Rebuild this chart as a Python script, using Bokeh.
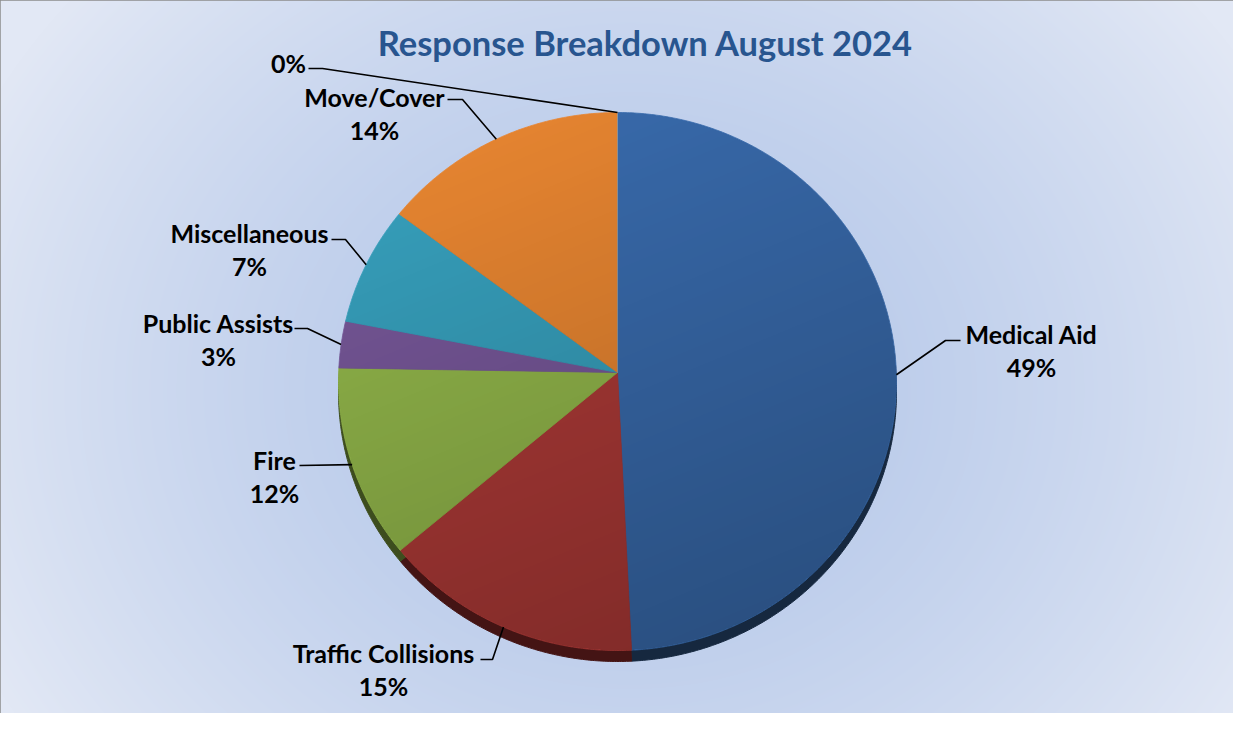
import numpy as np
from bokeh.plotting import figure
from bokeh.models import Range1d
from bokeh.core.properties import value
from bokeh.embed import file_html
from bokeh.resources import INLINE

# ---------------- data ----------------
title_text = "Response Breakdown August 2024"
categories = ["Medical Aid", "Traffic Collisions", "Fire", "Public Assists",
              "Miscellaneous", "Move/Cover", ""]
shares = [49.2, 15.0, 11.6, 2.8, 7.1, 14.3, 0.0]
face_colors = ["#3a6db0", "#b03b38", "#95ba4c", "#79599c", "#38a3c0", "#ec8832", "#999999"]
rim_colors = ["#16283f", "#441414", "#3d4d1e", "#2c2039", "#16404b", "#5c3412", "#444444"]

# label layout (screen pixels): name centre x, name centre y, elbow x, elbow y, leader end x
label_x = [1031, 383, 274, 218, 249, 374, 288]
label_y = [333, 652, 459, 322, 232, 96, 62]
elbow_x = [945, 492, 299, 307, 345, 462, 322]
elbow_y = [340, 659, 465, 328, 239, 99, 68]
end_x = [960, 480, 299, 294, 331, 447, 308]

# ---------------- layout ----------------
W, H = 1233, 713
OFF = 0


def Y(s):
    return OFF + H - np.asarray(s, dtype=float)


p = figure(width=W, height=H, x_range=Range1d(OFF, OFF + W), y_range=Range1d(0, H),
           output_backend="svg", toolbar_location=None, min_border=0,
           x_axis_location=None, y_axis_location=None)
p.grid.visible = False
p.outline_line_color = "#8c8c8c"
p.outline_line_width = 2
p.border_fill_color = "white"
p.background_fill_color = "#cdd9ef"

# background radial gradient
sx = np.arange(W) + OFF + 0.5
sy = (OFF + H) - (np.arange(H) + 0.5)
GX, GY = np.meshgrid(sx, sy)
t = np.sqrt(((GX - 630) / 720.0) ** 2 + ((GY - 390) / 620.0) ** 2)
t = np.clip(t, 0, 1) ** 1.5
c0 = np.array([180, 199, 233], dtype=float)
c1 = np.array([226, 232, 245], dtype=float)
bg = np.empty((H, W), dtype=np.uint32)
v = bg.view(np.uint8).reshape((H, W, 4))
for k in range(3):
    v[:, :, k] = (c0[k] + (c1[k] - c0[k]) * t).astype(np.uint8)
v[:, :, 3] = 255
p.image_rgba(image=[bg], x=OFF, y=0, dw=W, dh=H)

# ---------------- pie geometry ----------------
CX, CY = 617.0, 381.0
RX, RY = 279.0, 269.0
AX, AY = 617.0, 372.0
DEPTH = 11.0

total = float(sum(shares))
bounds = np.concatenate([[0.0], np.cumsum(shares)]) / total * 2 * np.pi


def slice_pts(a0, a1):
    n = max(2, int(np.degrees(a1 - a0) * 2))
    tt = np.linspace(a0, a1, n)
    xs = np.concatenate([[AX], CX + RX * np.sin(tt)])
    ys = np.concatenate([[AY], CY - RY * np.cos(tt)])
    return xs, ys


rim_xs, rim_ys, face_xs, face_ys = [], [], [], []
for i in range(len(shares)):
    xs, ys = slice_pts(bounds[i], bounds[i + 1])
    rim_xs.append(list(xs))
    rim_ys.append(list(Y(ys + DEPTH)))
    face_xs.append(list(xs))
    face_ys.append(list(Y(ys)))

p.patches(rim_xs, rim_ys, fill_color=rim_colors, line_color=rim_colors, line_width=1)
p.patches(face_xs, face_ys, fill_color=face_colors, line_color=face_colors, line_width=0.8)

# shading overlay on the pie face
bx0, bx1 = int(CX - RX) - 1, int(CX + RX) + 2
by0, by1 = int(CY - RY) - 1, int(CY + RY) + 2
ow, oh = bx1 - bx0, by1 - by0
ox = np.arange(ow) + bx0 + 0.5
oy = by1 - (np.arange(oh) + 0.5)
OX, OY = np.meshgrid(ox, oy)
inside = ((OX - CX) / RX) ** 2 + ((OY - CY) / RY) ** 2 <= 1.0
tt = 0.3 * (OX - (CX - RX)) / (2 * RX) + 0.7 * (OY - (CY - RY)) / (2 * RY)
alpha = np.where(inside, 0.30 * np.clip(tt, 0, 1), 0.0)
ov = np.zeros((oh, ow), dtype=np.uint32)
vv = ov.view(np.uint8).reshape((oh, ow, 4))
vv[:, :, 3] = (alpha * 255).astype(np.uint8)
p.image_rgba(image=[ov], x=bx0, y=float(Y(by1)), dw=ow, dh=oh)

# ---------------- labels & leaders ----------------
mid = (bounds[:-1] + bounds[1:]) / 2
anc_x = CX + RX * np.sin(mid)
anc_y = CY - RY * np.cos(mid)
lead_xs, lead_ys = [], []
for i in range(len(shares)):
    lead_xs.append([float(anc_x[i]), elbow_x[i], end_x[i]])
    lead_ys.append(list(Y([anc_y[i], elbow_y[i], elbow_y[i]])))
p.multi_line(lead_xs, lead_ys, line_color="black", line_width=1.6)

font = value("Lato")
names_x, names_y, names_t = [], [], []
pct_x, pct_y, pct_t = [], [], []
for i, (c, s) in enumerate(zip(categories, shares)):
    pct = f"{round(s / total * 100)}%"
    if c:
        names_x.append(label_x[i]); names_y.append(float(Y(label_y[i]))); names_t.append(c)
        pct_x.append(label_x[i]); pct_y.append(float(Y(label_y[i] + 33))); pct_t.append(pct)
    else:
        pct_x.append(label_x[i]); pct_y.append(float(Y(label_y[i]))); pct_t.append(pct)

p.text(names_x, names_y, text=names_t, text_font=font, text_font_style="bold",
       text_font_size="25px", text_align="center", text_baseline="middle", text_color="black")
p.text(pct_x, pct_y, text=pct_t, text_font=font, text_font_style="bold",
       text_font_size="25px", text_align="center", text_baseline="middle", text_color="black")

p.text([645], [float(Y(42))], text=[title_text], text_font=font, text_font_style="bold",
       text_font_size="34.5px", text_align="center", text_baseline="middle", text_color="#28558f")

open("out.html", "w").write(file_html(p, INLINE))
